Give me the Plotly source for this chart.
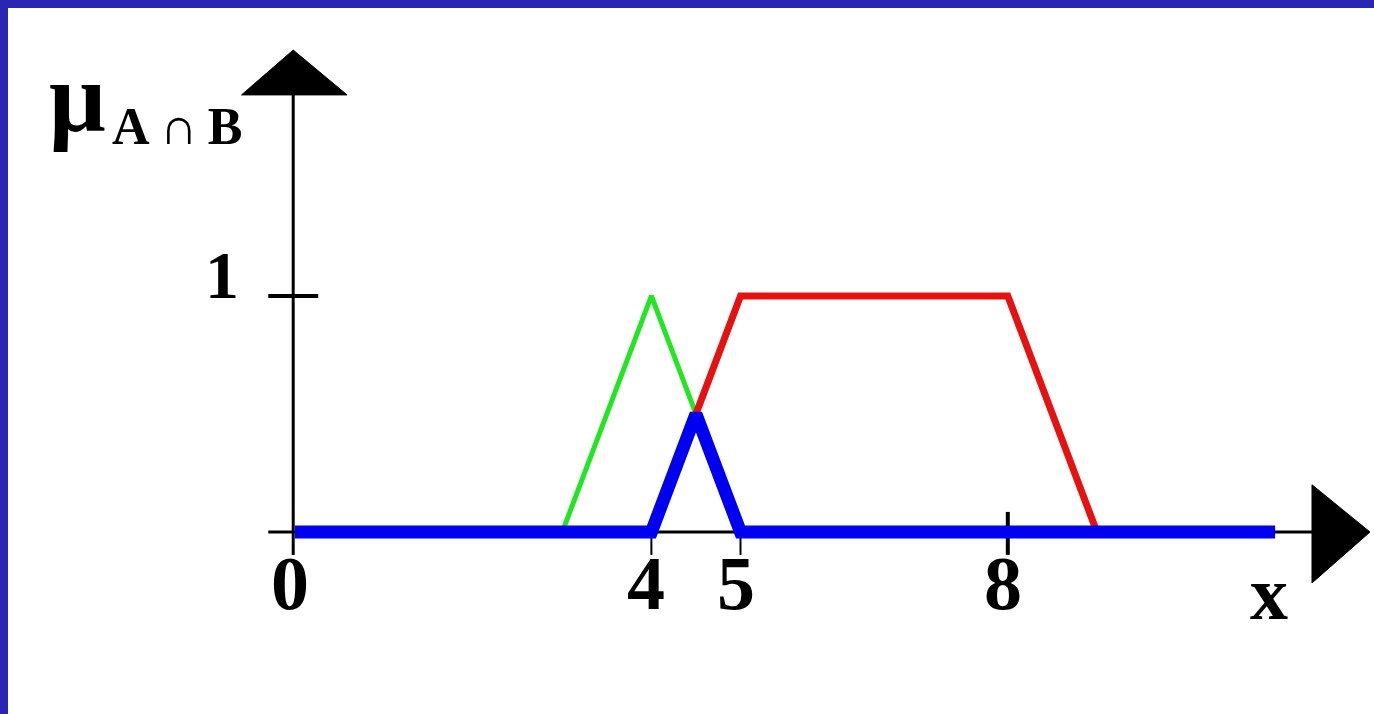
import plotly.graph_objects as go

# Membership functions (x, mu)
x_green = [3, 4, 5]
mu_green = [0, 1, 0]

x_red = [4, 5, 8, 9]
mu_red = [0, 1, 1, 0]

# Intersection A ∩ B = min(mu_A, mu_B)
x_blue = [0, 4, 4.5, 5, 11]
mu_blue = [0, 0, 0.5, 0, 0]

x_ticks = [0, 4, 5, 8]
x_tick_labels = ["0", "4", "5", "8"]
y_ticks = [1]
y_tick_labels = ["1"]

SERIF = "Liberation Serif"
BLACK = "#000000"

fig = go.Figure()

fig.add_trace(go.Scatter(x=x_green, y=mu_green, mode="lines",
                         line=dict(color="#22e622", width=5), hoverinfo="skip"))
fig.add_trace(go.Scatter(x=x_red, y=mu_red, mode="lines",
                         line=dict(color="#e61212", width=7), hoverinfo="skip"))
fig.add_trace(go.Scatter(x=x_blue, y=mu_blue, mode="lines",
                         line=dict(color="#0000f0", width=13), hoverinfo="skip"))

shapes = []
# white slide area inside the blue frame
shapes.append(dict(type="rect", xref="paper", yref="paper", x0=8 / 1374, x1=1.05,
                   y0=-0.05, y1=706 / 714, fillcolor="#ffffff", line=dict(width=0),
                   layer="below"))
# axes
shapes.append(dict(type="line", xref="x", yref="y", x0=-0.30, x1=11.42, y0=0, y1=0,
                   line=dict(color=BLACK, width=3), layer="below"))
shapes.append(dict(type="line", xref="x", yref="y", x0=-0.02, x1=-0.02, y0=-0.097, y1=1.86,
                   line=dict(color=BLACK, width=3), layer="below"))
# arrow heads
shapes.append(dict(type="path", xref="x", yref="y",
                   path="M -0.60 1.852 L -0.02 2.042 L 0.585 1.852 Z",
                   fillcolor=BLACK, line=dict(color=BLACK, width=1)))
shapes.append(dict(type="path", xref="x", yref="y",
                   path="M 11.414 0.20 L 12.065 0 L 11.414 -0.216 Z",
                   fillcolor=BLACK, line=dict(color=BLACK, width=1)))
# tick marks
for yv in y_ticks:
    shapes.append(dict(type="line", xref="x", yref="y", x0=-0.30, x1=0.26, y0=yv, y1=yv,
                       line=dict(color=BLACK, width=4), layer="below"))
for xv in x_ticks[1:]:
    top = 0.085 if xv == 8 else 0
    shapes.append(dict(type="line", xref="x", yref="y", x0=xv, x1=xv, y0=top, y1=-0.097,
                       line=dict(color=BLACK, width=4 if xv == 8 else 2), layer="below"))

annotations = []
for xv, lab in zip(x_ticks, x_tick_labels):
    annotations.append(dict(x=xv, y=-0.215, xref="x", yref="y", text=lab, showarrow=False,
                            xanchor="center", yanchor="middle", xshift=-5,
                            font=dict(family=SERIF, size=76, color=BLACK, weight="bold")))
for yv, lab in zip(y_ticks, y_tick_labels):
    annotations.append(dict(x=-0.82, y=yv + 0.09, xref="x", yref="y", text=lab, showarrow=False,
                            xanchor="center", yanchor="middle",
                            font=dict(family=SERIF, size=68, color=BLACK, weight="bold")))
annotations.append(dict(x=10.93, y=-0.258, xref="x", yref="y", text="x", showarrow=False,
                        xanchor="center", yanchor="middle",
                        font=dict(family=SERIF, size=76, color=BLACK, weight="bold")))
# y-axis title: mu with subscript A ∩ B
annotations.append(dict(x=-2.78, y=1.84, xref="x", yref="y", text="μ", showarrow=False,
                        xanchor="left", yanchor="middle",
                        font=dict(family=SERIF, size=100, color=BLACK, weight="bold")))
annotations.append(dict(x=-2.08, y=1.72, xref="x", yref="y", text="A\u2009∩\u2009B",
                        showarrow=False, xanchor="left", yanchor="middle",
                        font=dict(family=SERIF, size=52, color=BLACK, weight="bold")))

fig.update_layout(
    width=1374, height=714,
    margin=dict(l=0, r=0, t=0, b=0),
    paper_bgcolor="#2a25b2",
    plot_bgcolor="#ffffff",
    showlegend=False,
    xaxis=dict(domain=[8 / 1374, 1], range=[-3.221, 12.110], visible=False, fixedrange=True),
    yaxis=dict(domain=[0, 706 / 714], range=[-0.7712, 2.2203], visible=False, fixedrange=True),
    shapes=shapes,
    annotations=annotations,
)

fig.write_html("out.html")
